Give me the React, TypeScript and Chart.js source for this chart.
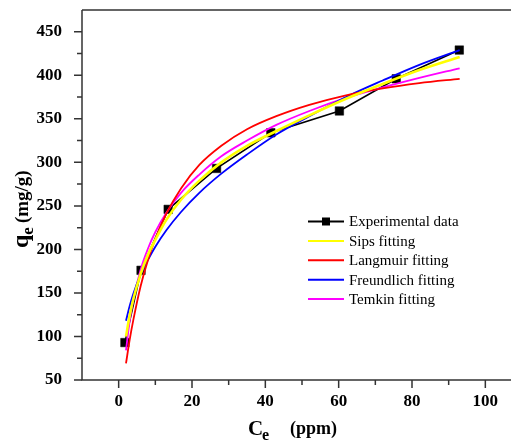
import React, { useEffect, useRef } from "react";
import { Chart, registerables } from "chart.js";

Chart.register(...registerables);

// ---- data ----
const EXP_C = [1.7, 6.1, 13.5, 26.7, 41.5, 60.2, 75.7, 92.9];
const EXP_Q = [93, 176, 246, 293, 334, 359, 396, 429];

const FIT_C = [2, 3, 4, 6, 8, 10, 13, 17, 22, 28, 35, 43, 52, 62, 72, 82, 93];
const SIPS_Q = [100, 124, 143, 172, 194, 211, 234, 257, 279, 300, 319, 336, 354, 373, 390, 406, 421];
const LANGMUIR_Q = [69, 96, 119, 158, 188, 212, 241, 270, 297, 319, 338, 353, 366, 377, 385, 391, 396];
const FREUNDLICH_Q = [118, 135, 149, 171, 188, 203, 222, 243, 265, 287, 309, 332, 353, 375, 394, 412, 429];
const TEMKIN_Q = [84, 118, 142, 177, 201, 220, 242, 265, 286, 307, 325, 343, 359, 374, 386, 397, 408];

const X_TICKS = [0, 20, 40, 60, 80, 100];
const X_MINOR = [10, 30, 50, 70, 90];
const Y_TICKS = [50, 100, 150, 200, 250, 300, 350, 400, 450];
const Y_MINOR = [75, 125, 175, 225, 275, 325, 375, 425];

const SERIES_NAMES = [
  "Experimental data",
  "Sips fitting",
  "Langmuir fitting",
  "Freundlich fitting",
  "Temkin fitting",
];
const SERIES_COLORS = ["#000000", "#ffff00", "#ff0000", "#0000ff", "#ff00ff"];

const SERIF = "'Liberation Serif', 'Times New Roman', serif";

function pts(xs: number[], ys: number[]) {
  return xs.map((x, i) => ({ x, y: ys[i] }));
}

const decorPlugin = {
  id: "decor",
  afterDraw(chart: any) {
    const ctx = chart.ctx as CanvasRenderingContext2D;
    const { left, right, top, bottom } = chart.chartArea;
    const xs = chart.scales.x;
    const ys = chart.scales.y;
    ctx.save();
    ctx.strokeStyle = "#333";
    ctx.lineWidth = 1.5;
    // axes + top frame
    ctx.beginPath();
    ctx.moveTo(left, top);
    ctx.lineTo(right, top);
    ctx.moveTo(left, top);
    ctx.lineTo(left, bottom);
    ctx.lineTo(right, bottom);
    ctx.stroke();
    // major and minor ticks
    ctx.beginPath();
    X_TICKS.forEach((v) => {
      const p = xs.getPixelForValue(v);
      ctx.moveTo(p, bottom);
      ctx.lineTo(p, bottom + 8);
    });
    X_MINOR.forEach((v) => {
      const p = xs.getPixelForValue(v);
      ctx.moveTo(p, bottom);
      ctx.lineTo(p, bottom + 5);
    });
    Y_TICKS.forEach((v) => {
      const p = ys.getPixelForValue(v);
      ctx.moveTo(left, p);
      ctx.lineTo(left - 8, p);
    });
    Y_MINOR.forEach((v) => {
      const p = ys.getPixelForValue(v);
      ctx.moveTo(left, p);
      ctx.lineTo(left - 5, p);
    });
    ctx.stroke();

    // x title: C_e (ppm)
    ctx.fillStyle = "#000";
    ctx.textBaseline = "alphabetic";
    ctx.textAlign = "left";
    ctx.font = `bold 21px ${SERIF}`;
    ctx.fillText("C", 248, 435);
    ctx.font = `bold 16px ${SERIF}`;
    ctx.fillText("e", 262, 440);
    ctx.font = `bold 18px ${SERIF}`;
    ctx.fillText("(ppm)", 290, 434);

    // y title: q_e (mg/g), rotated
    ctx.save();
    ctx.translate(28, 248);
    ctx.rotate(-Math.PI / 2);
    ctx.font = `bold 24px ${SERIF}`;
    ctx.fillText("q", 0, 0);
    let w = ctx.measureText("q").width;
    ctx.font = `bold 17px ${SERIF}`;
    ctx.fillText("e", w, 5);
    w += ctx.measureText("e").width + 4;
    ctx.font = `bold 19px ${SERIF}`;
    ctx.fillText("(mg/g)", w, 0);
    ctx.restore();

    // legend
    const lx0 = 308;
    const lx1 = 344;
    const ly0 = 221.5;
    const dy = 19.4;
    ctx.font = `15px ${SERIF}`;
    ctx.textBaseline = "middle";
    SERIES_NAMES.forEach((name, i) => {
      const y = ly0 + i * dy;
      ctx.strokeStyle = SERIES_COLORS[i];
      ctx.lineWidth = 2;
      ctx.beginPath();
      ctx.moveTo(lx0, y);
      ctx.lineTo(lx1, y);
      ctx.stroke();
      if (i === 0) {
        ctx.fillStyle = "#000";
        ctx.fillRect((lx0 + lx1) / 2 - 4, y - 4, 8, 8);
      }
      ctx.fillStyle = "#000";
      ctx.fillText(name, 349, y + 1);
    });
    ctx.restore();
  },
};

export default function App() {
  const ref = useRef<HTMLCanvasElement | null>(null);
  useEffect(() => {
    if (!ref.current) return;
    const fit = (data: number[], color: string, width: number) => ({
      data: pts(FIT_C, data),
      borderColor: color,
      backgroundColor: color,
      borderWidth: width,
      pointRadius: 0,
      cubicInterpolationMode: "monotone" as const,
      fill: false,
      order: 0,
    });
    const chart = new Chart(ref.current, {
      type: "line",
      data: {
        datasets: [
          fit(SIPS_Q, SERIES_COLORS[1], 2.6),
          fit(LANGMUIR_Q, SERIES_COLORS[2], 1.8),
          fit(FREUNDLICH_Q, SERIES_COLORS[3], 1.8),
          fit(TEMKIN_Q, SERIES_COLORS[4], 1.8),
          {
            data: pts(EXP_C, EXP_Q),
            borderColor: "#000",
            backgroundColor: "#000",
            borderWidth: 1.6,
            pointStyle: "rect",
            pointRadius: 6,
            pointBorderWidth: 0.5,
            pointBorderColor: "#000",
            pointBackgroundColor: "#000",
            tension: 0,
            fill: false,
            order: 1,
          },
        ],
      },
      options: {
        responsive: false,
        animation: false,
        parsing: false as any,
        layout: { autoPadding: false, padding: { top: 10, right: 0, left: 0, bottom: 0 } },
        plugins: {
          legend: { display: false },
          tooltip: { enabled: false },
          title: { display: false },
        },
        scales: {
          x: {
            type: "linear",
            min: -10,
            max: 107,
            grid: { display: false },
            border: { display: false },
            afterBuildTicks: (s: any) => {
              s.ticks = X_TICKS.map((v) => ({ value: v }));
            },
            afterFit: (s: any) => {
              s.height = 65;
              s.paddingLeft = 0;
              s.paddingRight = 0;
            },
            ticks: {
              padding: 3,
              color: "#000",
              maxRotation: 0,
              font: { family: SERIF, size: 17, weight: "bold" },
            },
          },
          y: {
            type: "linear",
            min: 50,
            max: 475,
            grid: { display: false },
            border: { display: false },
            afterBuildTicks: (s: any) => {
              s.ticks = Y_TICKS.map((v) => ({ value: v }));
            },
            afterFit: (s: any) => {
              s.width = 82;
              s.paddingTop = 0;
              s.paddingBottom = 0;
            },
            ticks: {
              padding: 12,
              color: "#000",
              font: { family: SERIF, size: 17, weight: "bold" },
            },
          },
        },
      },
      plugins: [decorPlugin],
    });
    return () => chart.destroy();
  }, []);
  return (
    <div style={{ position: "absolute", left: 0, top: 0, width: 511, height: 445, background: "#fff" }}>
      <canvas ref={ref} width={511} height={445} style={{ display: "block" }} />
    </div>
  );
}
